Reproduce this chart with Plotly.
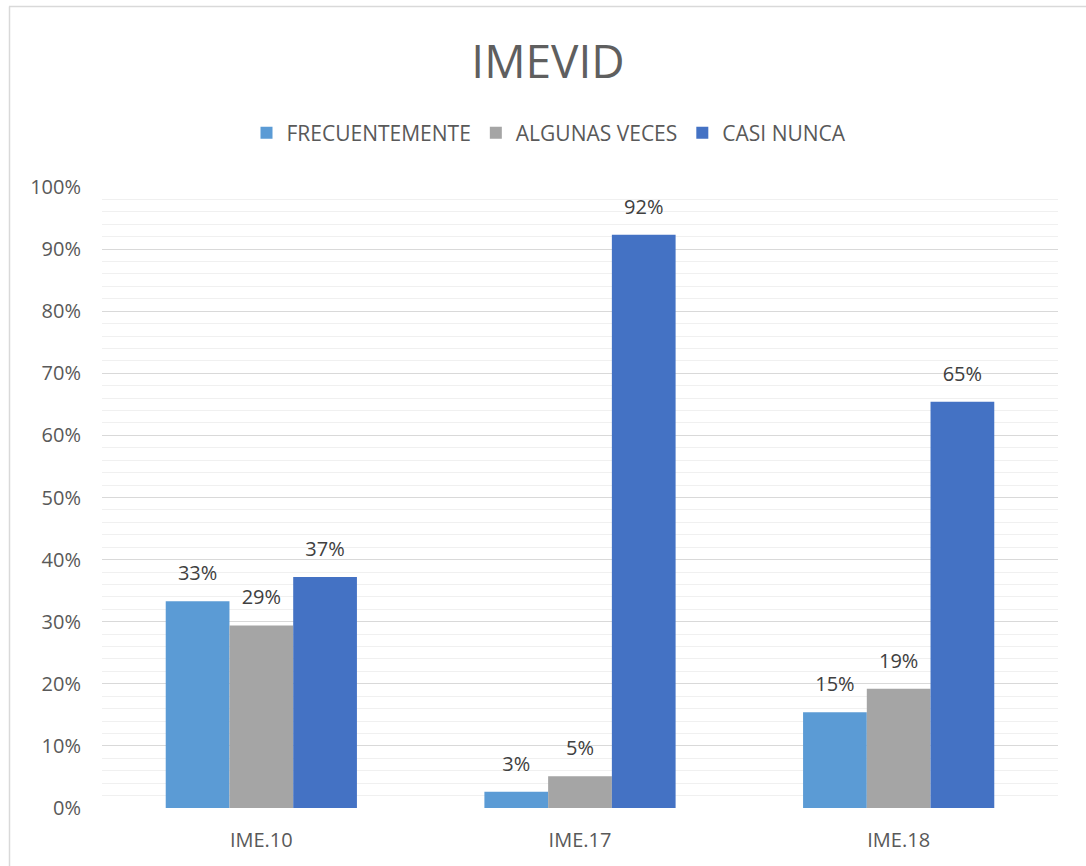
import plotly.graph_objects as go

categories = ["IME.10", "IME.17", "IME.18"]
frecuentemente = [0.333, 0.026, 0.154]
algunas_veces = [0.294, 0.051, 0.192]
casi_nunca = [0.372, 0.923, 0.654]
series_names = ["FRECUENTEMENTE", "ALGUNAS VECES", "CASI NUNCA"]
colors = ["#5B9BD5", "#A5A5A5", "#4472C4"]

W, H = 1086, 866
ml, mr, mt, mb = 102, 28, 187, 58
pw = W - ml - mr
ph = H - mt - mb

fig = go.Figure()
for i, (name, vals, c) in enumerate(zip(series_names, [frecuentemente, algunas_veces, casi_nunca], colors)):
    fig.add_trace(go.Bar(
        x=categories, y=vals, name=name, marker_color=c, marker_line_width=0,
        offsetgroup=str(i), hoverinfo="skip",
    ))
for i, (name, vals) in enumerate(zip(series_names, [frecuentemente, algunas_veces, casi_nunca])):
    fig.add_trace(go.Scatter(
        x=categories, y=vals, mode="markers+text", showlegend=False,
        offsetgroup=str(i), hoverinfo="skip",
        marker=dict(size=24, color="rgba(0,0,0,0)"),
        texttemplate="%{y:.0%}", textposition="top center",
        textfont=dict(size=20, color="#404040"), cliponaxis=False,
    ))

def px_x(p):
    return (p - ml) / pw

def px_y(p):
    return (H - mb - p) / ph

fig.update_layout(
    width=W, height=H,
    margin=dict(l=ml, r=mr, t=mt, b=mb),
    paper_bgcolor="white", plot_bgcolor="white",
    font=dict(family="Open Sans, Liberation Sans, sans-serif", color="#595959"),
    title=dict(text="IMEVID", x=px_x(548), xanchor="center", xref="paper",
               y=1 - 62 / H, yanchor="middle",
               font=dict(size=46, color="#5f5f5f", family="Open Sans, sans-serif")),
    barmode="group", bargap=0.4, bargroupgap=0,
    scattermode="group", scattergap=0.4,
    showlegend=True,
    legend=dict(orientation="h", x=px_x(549), xanchor="center", y=px_y(133), yanchor="middle",
                font=dict(size=21, color="#595959"), itemwidth=30, traceorder="normal"),
    xaxis=dict(showgrid=False, showline=False, ticks="", ticklabelstandoff=18,
               tickfont=dict(size=20, color="#595959")),
    yaxis=dict(range=[0, 1], dtick=0.1, tickformat=".0%", showgrid=True, gridcolor="#D9D9D9",
               gridwidth=1, zeroline=False, showline=False, ticks="", ticklabelstandoff=20,
               tickfont=dict(size=20, color="#595959"),
               minor=dict(dtick=0.02, showgrid=True, gridcolor="#F0F0F0", gridwidth=1)),
    shapes=[
        dict(type="line", xref="paper", yref="paper", x0=px_x(9), x1=px_x(1090),
             y0=px_y(6.5), y1=px_y(6.5), line=dict(color="#D9D9D9", width=1.5)),
        dict(type="line", xref="paper", yref="paper", x0=px_x(9.5), x1=px_x(9.5),
             y0=px_y(6.5), y1=px_y(870), line=dict(color="#D9D9D9", width=1.5)),
    ],
)

fig.write_html("out.html", post_script="document.body.style.margin='0';",
               config={"displayModeBar": False})
